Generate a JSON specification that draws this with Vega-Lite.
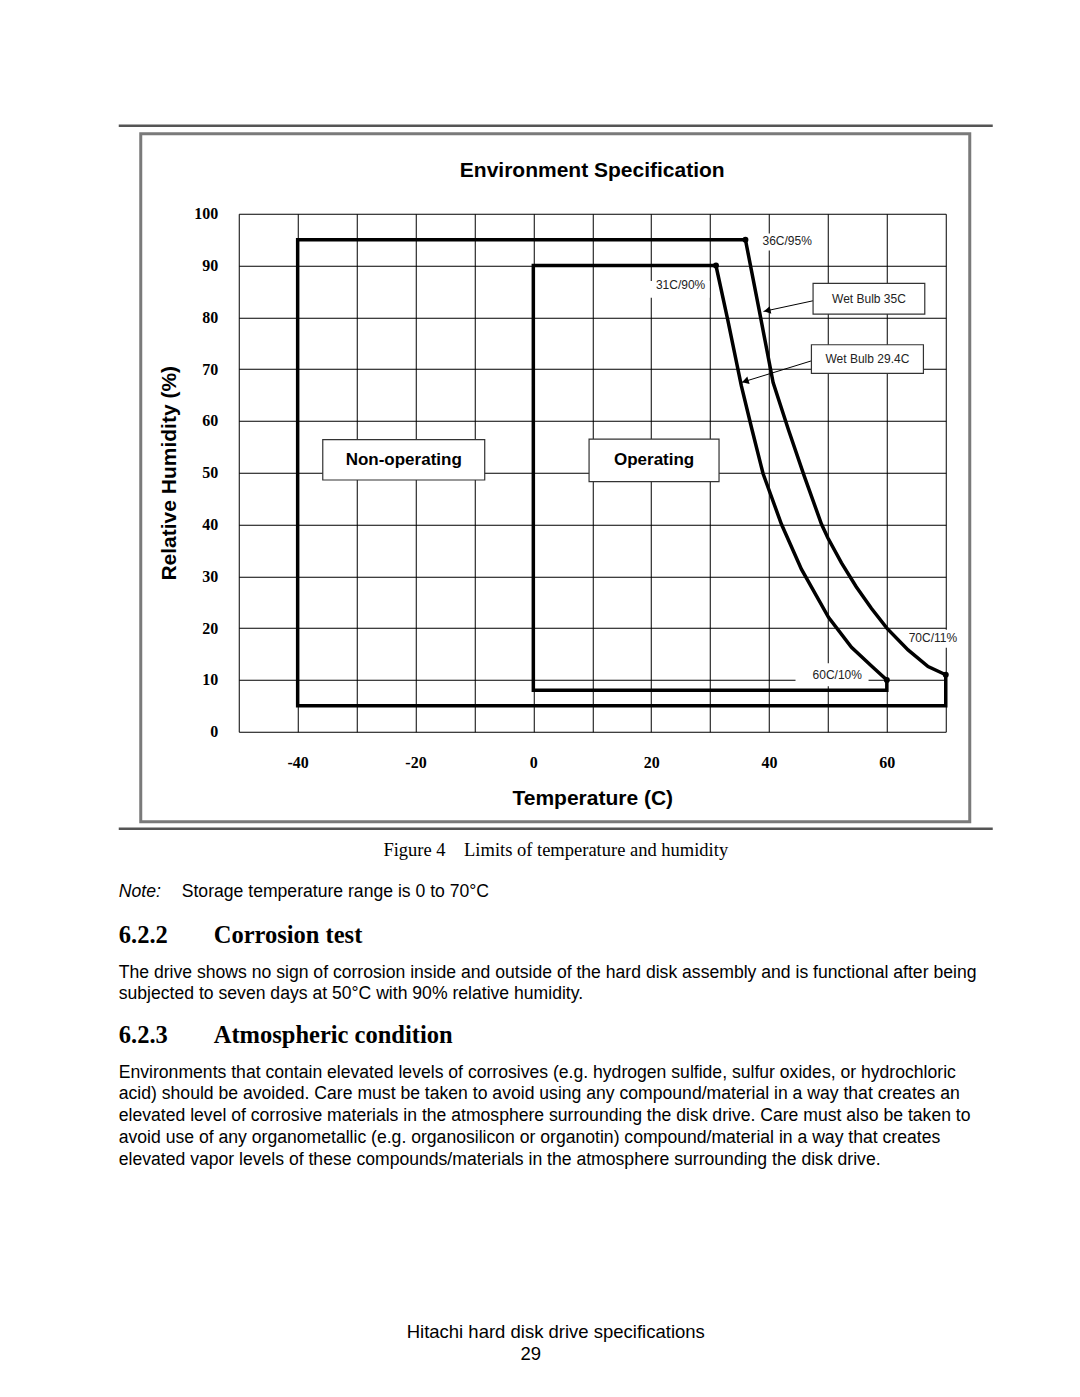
{
  "$schema": "https://vega.github.io/schema/vega-lite/v6.json",
  "background": "white",
  "padding": {"left": 116.75, "top": 123.75, "right": 10, "bottom": 10},
  "spacing": 10,
  "config": {"view": {"stroke": null}, "font": "Liberation Sans"},
  "datasets": {
    "boundary": [
      {"region": "Non-operating", "order": 1, "T": -40, "RH": 5},
      {"region": "Non-operating", "order": 2, "T": -40, "RH": 95},
      {"region": "Non-operating", "order": 3, "T": 36, "RH": 95},
      {"region": "Non-operating", "order": 4, "T": 38.4, "RH": 81},
      {"region": "Non-operating", "order": 5, "T": 40.7, "RH": 67.4},
      {"region": "Non-operating", "order": 6, "T": 43.3, "RH": 58.3},
      {"region": "Non-operating", "order": 7, "T": 46, "RH": 49.3},
      {"region": "Non-operating", "order": 8, "T": 48.9, "RH": 40.1},
      {"region": "Non-operating", "order": 9, "T": 50, "RH": 37.4},
      {"region": "Non-operating", "order": 10, "T": 52.3, "RH": 32.6},
      {"region": "Non-operating", "order": 11, "T": 54.8, "RH": 28},
      {"region": "Non-operating", "order": 12, "T": 57.4, "RH": 23.8},
      {"region": "Non-operating", "order": 13, "T": 60, "RH": 20},
      {"region": "Non-operating", "order": 14, "T": 63.6, "RH": 15.8},
      {"region": "Non-operating", "order": 15, "T": 67, "RH": 12.6},
      {"region": "Non-operating", "order": 16, "T": 70, "RH": 11},
      {"region": "Non-operating", "order": 17, "T": 70, "RH": 5},
      {"region": "Non-operating", "order": 18, "T": -40, "RH": 5},
      {"region": "Operating", "order": 1, "T": 0, "RH": 8},
      {"region": "Operating", "order": 2, "T": 0, "RH": 90},
      {"region": "Operating", "order": 3, "T": 31, "RH": 90},
      {"region": "Operating", "order": 4, "T": 33, "RH": 79.5},
      {"region": "Operating", "order": 5, "T": 35.3, "RH": 66.8},
      {"region": "Operating", "order": 6, "T": 37.1, "RH": 58.4},
      {"region": "Operating", "order": 7, "T": 39, "RH": 49.8},
      {"region": "Operating", "order": 8, "T": 42.1, "RH": 40.1},
      {"region": "Operating", "order": 9, "T": 45.5, "RH": 31.4},
      {"region": "Operating", "order": 10, "T": 50.1, "RH": 22.1},
      {"region": "Operating", "order": 11, "T": 54, "RH": 16.3},
      {"region": "Operating", "order": 12, "T": 57.4, "RH": 12.7},
      {"region": "Operating", "order": 13, "T": 60, "RH": 10},
      {"region": "Operating", "order": 14, "T": 60, "RH": 8},
      {"region": "Operating", "order": 15, "T": 0, "RH": 8}
    ],
    "corners": [
      {"T": 36, "RH": 95},
      {"T": 31, "RH": 90},
      {"T": 60, "RH": 10},
      {"T": 70, "RH": 11}
    ],
    "pointLabels": [
      {"label": "36C/95%", "T": 38.9, "RH": 94.8, "T1": 38.3, "T2": 48.1, "RH1": 96.2, "RH2": 92.9},
      {"label": "31C/90%", "T": 20.8, "RH": 86.3, "T1": 19.6, "T2": 29.9, "RH1": 87.0, "RH2": 83.8},
      {"label": "60C/10%", "T": 47.4, "RH": 11.0, "T1": 44.5, "T2": 56.9, "RH1": 13.2, "RH2": 8.8},
      {"label": "70C/11%", "T": 63.7, "RH": 18.1, "T1": 63.2, "T2": 73.0, "RH1": 19.7, "RH2": 16.2}
    ],
    "boxes": [
      {"label": "Non-operating", "kind": "region", "T": -22.0, "RH": 52.5, "T1": -35.74, "T2": -8.25, "RH1": 56.4, "RH2": 48.6},
      {"label": "Operating", "kind": "region", "T": 20.5, "RH": 52.4, "T1": 9.46, "T2": 31.52, "RH1": 56.5, "RH2": 48.3},
      {"label": "Wet Bulb 35C", "kind": "note", "T": 56.96, "RH": 83.6, "T1": 47.48, "T2": 66.44, "RH1": 86.55, "RH2": 80.64},
      {"label": "Wet Bulb 29.4C", "kind": "note", "T": 56.7, "RH": 71.94, "T1": 47.2, "T2": 66.21, "RH1": 74.71, "RH2": 69.17}
    ],
    "arrows": [
      {"label": "Wet Bulb 35C", "T1": 47.48, "RH1": 83.2, "T2": 39.06, "RH2": 81.14, "Th": 39.7, "RHh": 81.3},
      {"label": "Wet Bulb 29.4C", "T1": 47.2, "RH1": 71.6, "T2": 35.32, "RH2": 67.43, "Th": 35.97, "RHh": 67.66}
    ]
  },
  "vconcat": [
    {
      "spacing": 0,
      "bounds": "flush",
      "hconcat": [
        {"width": 120, "height": 518, "data": {"values": []}, "mark": "text"},
        {
          "width": 707,
          "height": 518,
          "layer": [
            {
              "data": {"values": [{}]},
              "mark": {"type": "rect", "fillOpacity": 0, "stroke": "#7a7a7a", "strokeWidth": 3},
              "encoding": {
                "x": {
                  "datum": -66.634, "type": "quantitative",
                  "scale": {"domain": [-50, 70], "nice": false, "zero": false},
                  "axis": {
                    "title": "Temperature (C)",
                    "values": [-50, -40, -30, -20, -10, 0, 10, 20, 30, 40, 50, 60, 70],
                    "labelExpr": "datum.value % 20 == 0 ? toString(datum.value) : ''",
                    "grid": true, "gridColor": "#000", "gridWidth": 1, "gridOpacity": 1,
                    "domain": false, "ticks": false, "tickSize": 0,
                    "labelFont": "Liberation Serif", "labelFontWeight": "bold", "labelFontSize": 16, "labelColor": "#000",
                    "labelPadding": 23, "labelFlush": false, "labelOverlap": false,
                    "titleFont": "Liberation Sans", "titleFontWeight": "bold", "titleFontSize": 21, "titleColor": "#000", "titlePadding": 17
                  }
                },
                "x2": {"datum": 74.074},
                "y": {
                  "datum": 115.444, "type": "quantitative",
                  "scale": {"domain": [0, 100], "nice": false, "zero": false},
                  "axis": {
                    "title": "Relative Humidity (%)",
                    "values": [0, 10, 20, 30, 40, 50, 60, 70, 80, 90, 100],
                    "grid": true, "gridColor": "#000", "gridWidth": 1, "gridOpacity": 1,
                    "domain": false, "ticks": false, "tickSize": 0,
                    "labelFont": "Liberation Serif", "labelFontWeight": "bold", "labelFontSize": 16, "labelColor": "#000",
                    "labelPadding": 21, "labelFlush": false, "labelOverlap": false,
                    "titleFont": "Liberation Sans", "titleFontWeight": "bold", "titleFontSize": 21, "titleColor": "#000", "titlePadding": 14
                  }
                },
                "y2": {"datum": -17.375}
              }
            },
            {
              "data": {"values": [{}]},
              "mark": {"type": "rule", "stroke": "#555", "strokeWidth": 2.5},
              "encoding": {
                "x": {"datum": -70.368, "type": "quantitative"},
                "x2": {"datum": 77.977},
                "y": {"datum": 116.988, "type": "quantitative"}
              }
            },
            {
              "data": {"values": [{}]},
              "mark": {"type": "rule", "stroke": "#555", "strokeWidth": 2.5},
              "encoding": {
                "x": {"datum": -70.368, "type": "quantitative"},
                "x2": {"datum": 77.977},
                "y": {"datum": -18.726, "type": "quantitative"}
              }
            },
            {
              "data": {"values": [{}]},
              "mark": {"type": "text", "text": "Environment Specification", "font": "Liberation Sans", "fontSize": 21, "fontWeight": "bold", "align": "center", "baseline": "middle", "color": "#000"},
              "encoding": {
                "x": {"datum": 10, "type": "quantitative"},
                "y": {"datum": 108.3, "type": "quantitative"}
              }
            },
            {
              "data": {"name": "pointLabels"},
              "mark": {"type": "rect", "fill": "white", "strokeWidth": 0},
              "encoding": {
                "x": {"field": "T1", "type": "quantitative"},
                "x2": {"field": "T2"},
                "y": {"field": "RH1", "type": "quantitative"},
                "y2": {"field": "RH2"}
              }
            },
            {
              "data": {"name": "boundary"},
              "mark": {"type": "line", "color": "#000", "strokeWidth": 3.5, "strokeJoin": "miter", "strokeCap": "square"},
              "encoding": {
                "x": {"field": "T", "type": "quantitative"},
                "y": {"field": "RH", "type": "quantitative"},
                "detail": {"field": "region"},
                "order": {"field": "order"}
              }
            },
            {
              "data": {"name": "corners"},
              "mark": {"type": "point", "shape": "circle", "filled": true, "color": "#000", "size": 36, "opacity": 1},
              "encoding": {
                "x": {"field": "T", "type": "quantitative"},
                "y": {"field": "RH", "type": "quantitative"}
              }
            },
            {
              "data": {"name": "pointLabels"},
              "mark": {"type": "text", "align": "left", "baseline": "middle", "font": "Liberation Sans", "fontSize": 12, "color": "#222"},
              "encoding": {
                "x": {"field": "T", "type": "quantitative"},
                "y": {"field": "RH", "type": "quantitative"},
                "text": {"field": "label"}
              }
            },
            {
              "data": {"name": "arrows"},
              "mark": {"type": "rule", "color": "#000", "strokeWidth": 1},
              "encoding": {
                "x": {"field": "T1", "type": "quantitative"},
                "y": {"field": "RH1", "type": "quantitative"},
                "x2": {"field": "T2"},
                "y2": {"field": "RH2"}
              }
            },
            {
              "data": {"name": "arrows"},
              "transform": [{"filter": "datum.label == 'Wet Bulb 35C'"}],
              "mark": {"type": "point", "shape": "triangle-left", "filled": true, "color": "#000", "opacity": 1, "size": 60, "angle": 348},
              "encoding": {
                "x": {"field": "Th", "type": "quantitative"},
                "y": {"field": "RHh", "type": "quantitative"}
              }
            },
            {
              "data": {"name": "arrows"},
              "transform": [{"filter": "datum.label == 'Wet Bulb 29.4C'"}],
              "mark": {"type": "point", "shape": "triangle-left", "filled": true, "color": "#000", "opacity": 1, "size": 60, "angle": 343},
              "encoding": {
                "x": {"field": "Th", "type": "quantitative"},
                "y": {"field": "RHh", "type": "quantitative"}
              }
            },
            {
              "data": {"name": "boxes"},
              "mark": {"type": "rect", "fill": "white", "stroke": "#333", "strokeWidth": 1.2},
              "encoding": {
                "x": {"field": "T1", "type": "quantitative"},
                "x2": {"field": "T2"},
                "y": {"field": "RH1", "type": "quantitative"},
                "y2": {"field": "RH2"}
              }
            },
            {
              "data": {"name": "boxes"},
              "transform": [{"filter": "datum.kind == 'region'"}],
              "mark": {"type": "text", "align": "center", "baseline": "middle", "font": "Liberation Sans", "fontWeight": "bold", "fontSize": 17, "color": "#000"},
              "encoding": {
                "x": {"field": "T", "type": "quantitative"},
                "y": {"field": "RH", "type": "quantitative"},
                "text": {"field": "label"}
              }
            },
            {
              "data": {"name": "boxes"},
              "transform": [{"filter": "datum.kind == 'note'"}],
              "mark": {"type": "text", "align": "center", "baseline": "middle", "font": "Liberation Sans", "fontSize": 12, "color": "#222"},
              "encoding": {
                "x": {"field": "T", "type": "quantitative"},
                "y": {"field": "RH", "type": "quantitative"},
                "text": {"field": "label"}
              }
            }
          ]
        }
      ]
    },
    {
      "spacing": 0,
      "bounds": "flush",
      "vconcat": [
        {
          "width": 874, "height": 18,
          "data": {"values": [{"text": "Figure 4\u00a0\u00a0\u00a0\u00a0Limits of temperature and humidity"}]},
          "mark": {"type": "text", "font": "Liberation Serif", "fontSize": 18.5, "color": "#000", "align": "center", "baseline": "middle"},
          "encoding": {"text": {"field": "text"}}
        },
        {"width": 874, "height": 22, "data": {"values": []}, "mark": "text"},
        {
          "width": 874, "height": 22,
          "data": {"values": [{"lead": "Note:", "text": "Storage temperature range is 0 to 70°C"}]},
          "layer": [
            {
              "mark": {"type": "text", "font": "Liberation Sans", "fontStyle": "italic", "fontSize": 17.6, "color": "#000", "align": "left", "baseline": "middle"},
              "encoding": {"x": {"datum": 0, "type": "quantitative", "scale": {"domain": [0, 1]}, "axis": null}, "text": {"field": "lead"}}
            },
            {
              "mark": {"type": "text", "font": "Liberation Sans", "fontSize": 17.6, "color": "#000", "align": "left", "baseline": "middle", "dx": 63},
              "encoding": {"x": {"datum": 0, "type": "quantitative"}, "text": {"field": "text"}}
            }
          ]
        },
        {"width": 874, "height": 18, "data": {"values": []}, "mark": "text"},
        {
          "width": 874, "height": 30,
          "data": {"values": [{"num": "6.2.2", "text": "Corrosion test"}]},
          "layer": [
            {
              "mark": {"type": "text", "font": "Liberation Serif", "fontWeight": "bold", "fontSize": 24.5, "color": "#000", "align": "left", "baseline": "middle"},
              "encoding": {"x": {"datum": 0, "type": "quantitative", "scale": {"domain": [0, 1]}, "axis": null}, "text": {"field": "num"}}
            },
            {
              "mark": {"type": "text", "font": "Liberation Serif", "fontWeight": "bold", "fontSize": 24.5, "color": "#000", "align": "left", "baseline": "middle", "dx": 95},
              "encoding": {"x": {"datum": 0, "type": "quantitative"}, "text": {"field": "text"}}
            }
          ]
        },
        {"width": 874, "height": 11.5, "data": {"values": []}, "mark": "text"},
        {
          "width": 874, "height": {"step": 21},
          "data": {"values": [
            {"line": 1, "text": "The drive shows no sign of corrosion inside and outside of the hard disk assembly and is functional after being"},
            {"line": 2, "text": "subjected to seven days at 50°C with 90% relative humidity."}
          ]},
          "mark": {"type": "text", "font": "Liberation Sans", "fontSize": 17.6, "color": "#000", "align": "left", "baseline": "middle"},
          "encoding": {
            "x": {"datum": 0, "type": "quantitative", "scale": {"domain": [0, 1]}, "axis": null},
            "y": {"field": "line", "type": "ordinal", "axis": null},
            "text": {"field": "text"}
          }
        },
        {"width": 874, "height": 15.5, "data": {"values": []}, "mark": "text"},
        {
          "width": 874, "height": 30,
          "data": {"values": [{"num": "6.2.3", "text": "Atmospheric condition"}]},
          "layer": [
            {
              "mark": {"type": "text", "font": "Liberation Serif", "fontWeight": "bold", "fontSize": 24.5, "color": "#000", "align": "left", "baseline": "middle"},
              "encoding": {"x": {"datum": 0, "type": "quantitative", "scale": {"domain": [0, 1]}, "axis": null}, "text": {"field": "num"}}
            },
            {
              "mark": {"type": "text", "font": "Liberation Serif", "fontWeight": "bold", "fontSize": 24.5, "color": "#000", "align": "left", "baseline": "middle", "dx": 95},
              "encoding": {"x": {"datum": 0, "type": "quantitative"}, "text": {"field": "text"}}
            }
          ]
        },
        {"width": 874, "height": 10.125, "data": {"values": []}, "mark": "text"},
        {
          "width": 874, "height": {"step": 21.75},
          "data": {"values": [
            {"line": 1, "text": "Environments that contain elevated levels of corrosives (e.g. hydrogen sulfide, sulfur oxides, or hydrochloric"},
            {"line": 2, "text": "acid) should be avoided. Care must be taken to avoid using any compound/material in a way that creates an"},
            {"line": 3, "text": "elevated level of corrosive materials in the atmosphere surrounding the disk drive. Care must also be taken to"},
            {"line": 4, "text": "avoid use of any organometallic (e.g. organosilicon or organotin) compound/material in a way that creates"},
            {"line": 5, "text": "elevated vapor levels of these compounds/materials in the atmosphere surrounding the disk drive."}
          ]},
          "mark": {"type": "text", "font": "Liberation Sans", "fontSize": 17.6, "color": "#000", "align": "left", "baseline": "middle"},
          "encoding": {
            "x": {"datum": 0, "type": "quantitative", "scale": {"domain": [0, 1]}, "axis": null},
            "y": {"field": "line", "type": "ordinal", "axis": null},
            "text": {"field": "text"}
          }
        },
        {"width": 874, "height": 149.125, "data": {"values": []}, "mark": "text"},
        {
          "width": 874, "height": {"step": 22},
          "data": {"values": [
            {"line": 1, "text": "Hitachi hard disk drive specifications"},
            {"line": 2, "text": "29"}
          ]},
          "layer": [
            {
              "transform": [{"filter": "datum.line == 1"}],
              "mark": {"type": "text", "font": "Liberation Sans", "fontSize": 18.5, "color": "#000", "align": "center", "baseline": "middle"},
              "encoding": {
                "y": {"field": "line", "type": "ordinal", "axis": null, "scale": {"domain": [1, 2]}},
                "text": {"field": "text"}
              }
            },
            {
              "transform": [{"filter": "datum.line == 2"}],
              "mark": {"type": "text", "font": "Liberation Sans", "fontSize": 18.5, "color": "#000", "align": "center", "baseline": "middle", "dx": -25},
              "encoding": {
                "y": {"field": "line", "type": "ordinal", "axis": null},
                "text": {"field": "text"}
              }
            }
          ]
        }
      ]
    }
  ]
}
